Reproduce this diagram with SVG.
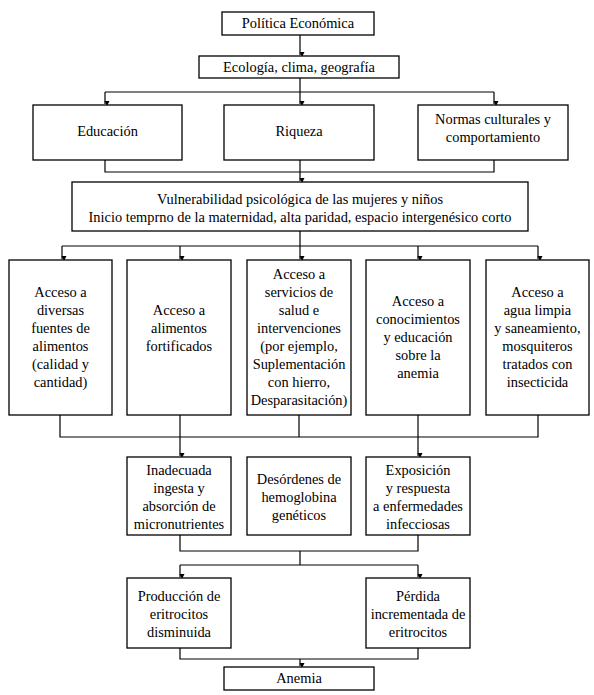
<svg xmlns="http://www.w3.org/2000/svg" width="594" height="695" viewBox="0 0 594 695">
<style>
.b{fill:#fff;stroke:#000;stroke-width:1.3}
.t{font-family:'Liberation Serif','Times New Roman',Times,serif;font-size:14.4px;fill:#000;text-anchor:middle}
.c{fill:none;stroke:#000;stroke-width:1.2}
</style>
<defs>
<marker id="ah" markerUnits="userSpaceOnUse" markerWidth="6" markerHeight="6" refX="3" refY="5" orient="auto-start-reverse" viewBox="0 0 6 6">
<path d="M0.5,0 L5.5,0 L3,5 z" fill="#000" transform="rotate(-90 3 3)"/>
</marker>
</defs>
<rect width="594" height="695" fill="#fff"/>
<g id="connectors">
<path class="c" d="M300,35 V55" marker-end="url(#ah)"/>
<path class="c" d="M300,78 V92 M105,92 H494"/>
<path class="c" d="M105,92 V104" marker-end="url(#ah)"/>
<path class="c" d="M300,92 V104" marker-end="url(#ah)"/>
<path class="c" d="M494,92 V104" marker-end="url(#ah)"/>
<path class="c" d="M105,160 V172 H494 V160"/>
<path class="c" d="M300,160 V181" marker-end="url(#ah)"/>
<path class="c" d="M300,231 V246 M62,246 H538"/>
<path class="c" d="M62,246 V259" marker-end="url(#ah)"/>
<path class="c" d="M180,246 V259" marker-end="url(#ah)"/>
<path class="c" d="M300,246 V259" marker-end="url(#ah)"/>
<path class="c" d="M418,246 V259" marker-end="url(#ah)"/>
<path class="c" d="M538,246 V259" marker-end="url(#ah)"/>
<path class="c" d="M60,415 V437 H538 V415 M299,415 V437"/>
<path class="c" d="M180,415 V456" marker-end="url(#ah)"/>
<path class="c" d="M418,415 V456" marker-end="url(#ah)"/>
<path class="c" d="M180,535 V551 H418 V535 M300,551 V565 M180,565 H418"/>
<path class="c" d="M180,565 V577" marker-end="url(#ah)"/>
<path class="c" d="M418,565 V577" marker-end="url(#ah)"/>
<path class="c" d="M180,648 V659 H418 V648"/>
<path class="c" d="M300,659 V666" marker-end="url(#ah)"/>
</g>
<g id="n-politica"><rect class="b" x="222" y="12" width="152" height="23"/><text class="t" x="298" y="28">Política Económica</text></g>
<g id="n-ecologia"><rect class="b" x="199" y="56" width="200" height="22"/><text class="t" x="299" y="72">Ecología, clima, geografía</text></g>
<g id="n-educacion"><rect class="b" x="33" y="105" width="149" height="55"/><text class="t" x="107.5" y="136">Educación</text></g>
<g id="n-riqueza"><rect class="b" x="224" y="105" width="150" height="55"/><text class="t" x="299" y="136">Riqueza</text></g>
<g id="n-normas"><rect class="b" x="418" y="105" width="150" height="55"/><text class="t" x="493" y="124">Normas culturales y</text><text class="t" x="493" y="142">comportamiento</text></g>
<g id="n-vulnerabilidad"><rect class="b" x="72" y="182" width="456" height="49"/><text class="t" x="300" y="204">Vulnerabilidad psicológica de las mujeres y niños</text><text class="t" x="300" y="222">Inicio temprno de la maternidad, alta paridad, espacio intergenésico corto</text></g>
<g id="n-acc1"><rect class="b" x="9" y="260" width="103" height="155"/>
<text class="t" x="60.5" y="297">Acceso a</text><text class="t" x="60.5" y="315">diversas</text><text class="t" x="60.5" y="333">fuentes de</text><text class="t" x="60.5" y="351">alimentos</text><text class="t" x="60.5" y="369">(calidad y</text><text class="t" x="60.5" y="387">cantidad)</text></g>
<g id="n-acc2"><rect class="b" x="127" y="260" width="104" height="155"/>
<text class="t" x="179" y="315">Acceso a</text><text class="t" x="179" y="333">alimentos</text><text class="t" x="179" y="351">fortificados</text></g>
<g id="n-acc3"><rect class="b" x="247" y="260" width="104" height="155"/>
<text class="t" x="299" y="279">Acceso a</text><text class="t" x="299" y="297">servicios de</text><text class="t" x="299" y="315">salud e</text><text class="t" x="299" y="333">intervenciones</text><text class="t" x="299" y="351">(por ejemplo,</text><text class="t" x="299" y="369">Suplementación</text><text class="t" x="299" y="387">con hierro,</text><text class="t" x="299" y="405">Desparasitación)</text></g>
<g id="n-acc4"><rect class="b" x="366" y="260" width="104" height="155"/>
<text class="t" x="418" y="306">Acceso a</text><text class="t" x="418" y="324">conocimientos</text><text class="t" x="418" y="342">y educación</text><text class="t" x="418" y="360">sobre la</text><text class="t" x="418" y="378">anemia</text></g>
<g id="n-acc5"><rect class="b" x="486" y="260" width="103" height="155"/>
<text class="t" x="537.5" y="297">Acceso a</text><text class="t" x="537.5" y="315">agua limpia</text><text class="t" x="537.5" y="333">y saneamiento,</text><text class="t" x="537.5" y="351">mosquiteros</text><text class="t" x="537.5" y="369">tratados con</text><text class="t" x="537.5" y="387">insecticida</text></g>
<g id="n-inadecuada"><rect class="b" x="127" y="457" width="104" height="78"/>
<text class="t" x="179" y="475">Inadecuada</text><text class="t" x="179" y="493">ingesta y</text><text class="t" x="179" y="511">absorción de</text><text class="t" x="179" y="529">micronutrientes</text></g>
<g id="n-desordenes"><rect class="b" x="247" y="457" width="104" height="78"/>
<text class="t" x="299" y="484">Desórdenes de</text><text class="t" x="299" y="502">hemoglobina</text><text class="t" x="299" y="520">genéticos</text></g>
<g id="n-exposicion"><rect class="b" x="366" y="457" width="104" height="78"/>
<text class="t" x="418" y="475">Exposición</text><text class="t" x="418" y="493">y respuesta</text><text class="t" x="418" y="511">a enfermedades</text><text class="t" x="418" y="529">infecciosas</text></g>
<g id="n-produccion"><rect class="b" x="127" y="578" width="104" height="70"/>
<text class="t" x="179" y="601">Producción de</text><text class="t" x="179" y="619">eritrocitos</text><text class="t" x="179" y="637">disminuida</text></g>
<g id="n-perdida"><rect class="b" x="366" y="578" width="104" height="70"/>
<text class="t" x="418" y="601">Pérdida</text><text class="t" x="418" y="619">incrementada de</text><text class="t" x="418" y="637">eritrocitos</text></g>
<g id="n-anemia"><rect class="b" x="224" y="667" width="150" height="23"/><text class="t" x="299" y="683">Anemia</text></g>
</svg>
